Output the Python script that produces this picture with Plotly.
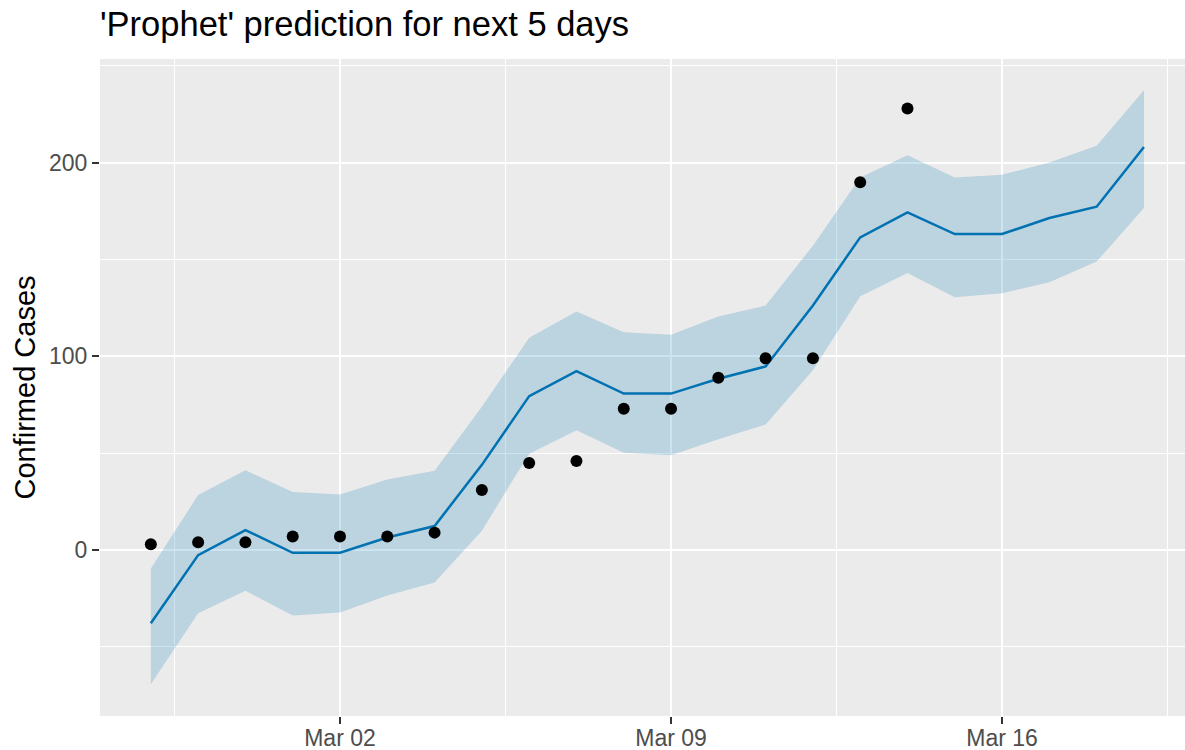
import plotly.graph_objects as go

dates = ["2020-02-27", "2020-02-28", "2020-02-29", "2020-03-01", "2020-03-02",
         "2020-03-03", "2020-03-04", "2020-03-05", "2020-03-06", "2020-03-07",
         "2020-03-08", "2020-03-09", "2020-03-10", "2020-03-11", "2020-03-12",
         "2020-03-13", "2020-03-14", "2020-03-15", "2020-03-16", "2020-03-17",
         "2020-03-18", "2020-03-19"]
actual = [3, 4, 4, 7, 7, 7, 9, 31, 45, 46, 73, 73, 89, 99, 99, 190, 228]
yhat = [-37.8, -2.6, 10.3, -1.4, -1.4, 6.5, 12.4, 44, 79.5, 92.4, 80.8, 80.8,
        88.5, 94.8, 126.3, 161.5, 174.4, 163.2, 163.2, 171.5, 177.3, 208.2]
yhat_upper = [-9.5, 28.4, 41.2, 30, 28.7, 36.4, 40.9, 74, 109.6, 123.2, 112.5, 111.2,
              120.6, 126.3, 157.2, 192.4, 203.9, 192.4, 193.8, 200.2, 208.8, 237.5]
yhat_lower = [-69.3, -32.7, -21, -33.8, -32.3, -23.5, -16.8, 10, 49.8, 61.9, 50.2, 49,
              57.2, 64.9, 92.8, 131.1, 143.1, 130.6, 132.6, 138.3, 149, 176.6]

x_ticks = ["2020-03-02", "2020-03-09", "2020-03-16"]
x_ticktext = ["Mar 02", "Mar 09", "Mar 16"]
x_minor = ["2020-02-27 12:00", "2020-03-05 12:00", "2020-03-12 12:00", "2020-03-19 12:00"]
y_ticks = [0, 100, 200]
y_minor = [-50, 50, 150, 250]

BLUE = "#0072B2"
FONT = "Liberation Sans, Arial, sans-serif"

fig = go.Figure()
fig.add_trace(go.Scatter(x=dates, y=yhat_upper, mode="lines", line=dict(width=0),
                         hoverinfo="skip", showlegend=False))
fig.add_trace(go.Scatter(x=dates, y=yhat_lower, mode="lines", line=dict(width=0),
                         fill="tonexty", fillcolor="rgba(0,114,178,0.2)",
                         hoverinfo="skip", showlegend=False))
fig.add_trace(go.Scatter(x=dates, y=yhat, mode="lines",
                         line=dict(color=BLUE, width=2.5), showlegend=False))
fig.add_trace(go.Scatter(x=dates[:len(actual)], y=actual, mode="markers",
                         marker=dict(color="black", size=12), showlegend=False))

fig.update_layout(
    width=1185, height=750,
    margin=dict(l=100, r=0, t=59, b=34, autoexpand=False),
    paper_bgcolor="white", plot_bgcolor="#EBEBEB",
    font=dict(family=FONT),
    title=dict(text="'Prophet' prediction for next 5 days",
               font=dict(size=34.5, color="black", family=FONT),
               xref="paper", x=0, xanchor="left",
               yref="container", y=(750 - 24) / 750, yanchor="middle"),
    annotations=[dict(text="Confirmed Cases", textangle=-90,
                      xref="paper", yref="paper", x=(24 - 100) / 1085, y=0.5,
                      xanchor="center", yanchor="middle", showarrow=False,
                      font=dict(size=29, color="black", family=FONT))],
)
fig.update_xaxes(
    type="date", range=["2020-02-25 22:12", "2020-03-19 20:50"],
    automargin=False,
    tickmode="array", tickvals=x_ticks, ticktext=x_ticktext,
    ticks="outside", ticklen=7, tickwidth=2, tickcolor="#333333",
    tickfont=dict(size=23, color="#4D4D4D"), ticklabelstandoff=-6,
    showgrid=True, gridcolor="white", gridwidth=2.4, zeroline=False, showline=False,
    minor=dict(tickmode="array", tickvals=x_minor, showgrid=True,
               gridcolor="white", gridwidth=1.2, ticks=""),
)
fig.update_yaxes(
    range=[-85.7, 253.6],
    automargin=False,
    tickmode="array", tickvals=y_ticks,
    ticks="outside", ticklen=7, tickwidth=2, tickcolor="#333333",
    tickfont=dict(size=23, color="#4D4D4D"),
    showgrid=True, gridcolor="white", gridwidth=2.4, zeroline=False, showline=False,
    minor=dict(tickmode="array", tickvals=y_minor, showgrid=True,
               gridcolor="white", gridwidth=1.2, ticks=""),
)

fig.write_html("out.html",
               config={"displayModeBar": False},
               post_script="document.body.style.margin='0px';document.body.style.overflow='hidden';")
